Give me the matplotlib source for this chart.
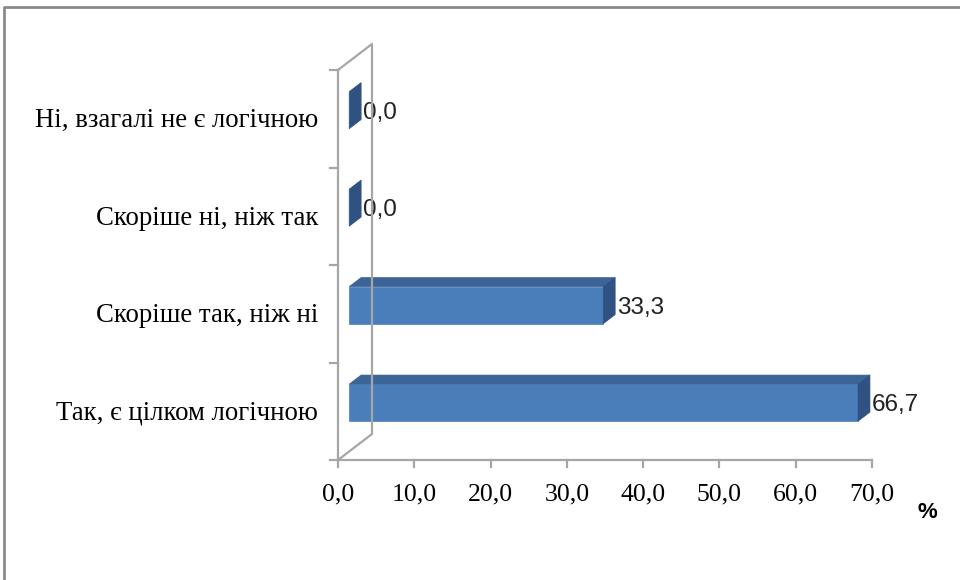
"""Horizontal 3D-look bar chart (Excel style) with a left wall and depth offsets."""

import matplotlib
matplotlib.use("Agg")
import matplotlib.pyplot as plt
from matplotlib.patches import Polygon
from matplotlib.lines import Line2D
from matplotlib.transforms import IdentityTransform

categories = ["Так, є цілком логічною", "Скоріше так, ніж ні",
              "Скоріше ні, ніж так", "Ні, взагалі не є логічною"]
values = [66.7, 33.3, 0.0, 0.0]
value_labels = ["66,7", "33,3", "0,0", "0,0"]
x_ticks = [0, 10, 20, 30, 40, 50, 60, 70]
x_tick_labels = ["0,0", "10,0", "20,0", "30,0", "40,0", "50,0", "60,0", "70,0"]

FRONT = "#4a7ebb"
TOP = "#3c6496"
SIDE = "#2f5283"
WALL = "#a6a6a6"

# depth of the "3D" box in pixels (right, up)
DEPTH = (34, 26)
BAR_NEAR, BAR_FAR = 0.33, 0.68   # fraction of depth where the bar sits
BAR_H = 0.38

fig = plt.figure(figsize=(9.6, 5.8), dpi=100)
W, H = 960, 580
ax = fig.add_axes([338 / W, (580 - 460) / H, (872 - 338) / W, (460 - 70) / H])
ax.set_xlim(0, 70)
ax.set_ylim(-0.5, len(categories) - 0.5)
ax.axis("off")

ident = IdentityTransform()


def disp(x, y, f=0.0):
    """data point -> display pixels, pushed back by depth fraction f"""
    px, py = ax.transData.transform((x, y))
    return (px + DEPTH[0] * f, py + DEPTH[1] * f)


def poly(pts, color):
    ax.add_patch(Polygon(pts, closed=True, facecolor=color, edgecolor=color,
                         linewidth=0.5, transform=ident, clip_on=False))


def line(pts, **kw):
    xs, ys = zip(*pts)
    fig.add_artist(Line2D(xs, ys, transform=ident, color=WALL, lw=1.6, **kw))


# left wall outline
y0, y1 = -0.5, len(categories) - 0.5
line([disp(0, y1), disp(0, y0), disp(0, y0, 1), disp(0, y1, 1), disp(0, y1)])
# x axis
line([disp(0, y0), disp(70, y0)])
for t in x_ticks:
    px, py = disp(t, y0)
    line([(px, py), (px, py - 7)])
# category ticks on the left axis
for k in range(len(categories) + 1):
    px, py = disp(0, k - 0.5)
    line([(px - 8, py), (px, py)])

# bars
for i, v in enumerate(values):
    b, t = i - BAR_H / 2, i + BAR_H / 2
    n, f = BAR_NEAR, BAR_FAR
    if v > 0:
        poly([disp(0, b, n), disp(v, b, n), disp(v, t, n), disp(0, t, n)], FRONT)
        poly([disp(0, t, n), disp(v, t, n), disp(v, t, f), disp(0, t, f)], TOP)
    poly([disp(v, b, n), disp(v, b, f), disp(v, t, f), disp(v, t, n)], SIDE)
    lx, _ = disp(v, i, f)
    _, ly = disp(v, i)
    ax.text(lx + 2, ly + 6, value_labels[i], transform=ident, fontsize=17.5,
            family="Liberation Sans", ha="left", va="center", color="#222222")

# tick labels
for t, lab in zip(x_ticks, x_tick_labels):
    px, py = disp(t, y0)
    ax.text(px, py - 34, lab, transform=ident, fontsize=18.5,
            family="Liberation Serif", ha="center", va="center")
for i, lab in enumerate(categories):
    px, py = disp(0, i)
    ax.text(px - 20, py - 2, lab, transform=ident, fontsize=19.3,
            family="Liberation Serif", ha="right", va="center")

fig.text(927 / W, 1 - 512 / H, "%", fontsize=16, fontweight="bold",
         family="Liberation Sans", ha="center", va="center")

# outer chart border (top and left edges visible)
fig.add_artist(Line2D([4 / W, 4 / W, 1], [0, 1 - 7 / H, 1 - 7 / H],
                      transform=fig.transFigure, color="#8a8a8a", lw=2))

fig.savefig("out.png", dpi=100)
